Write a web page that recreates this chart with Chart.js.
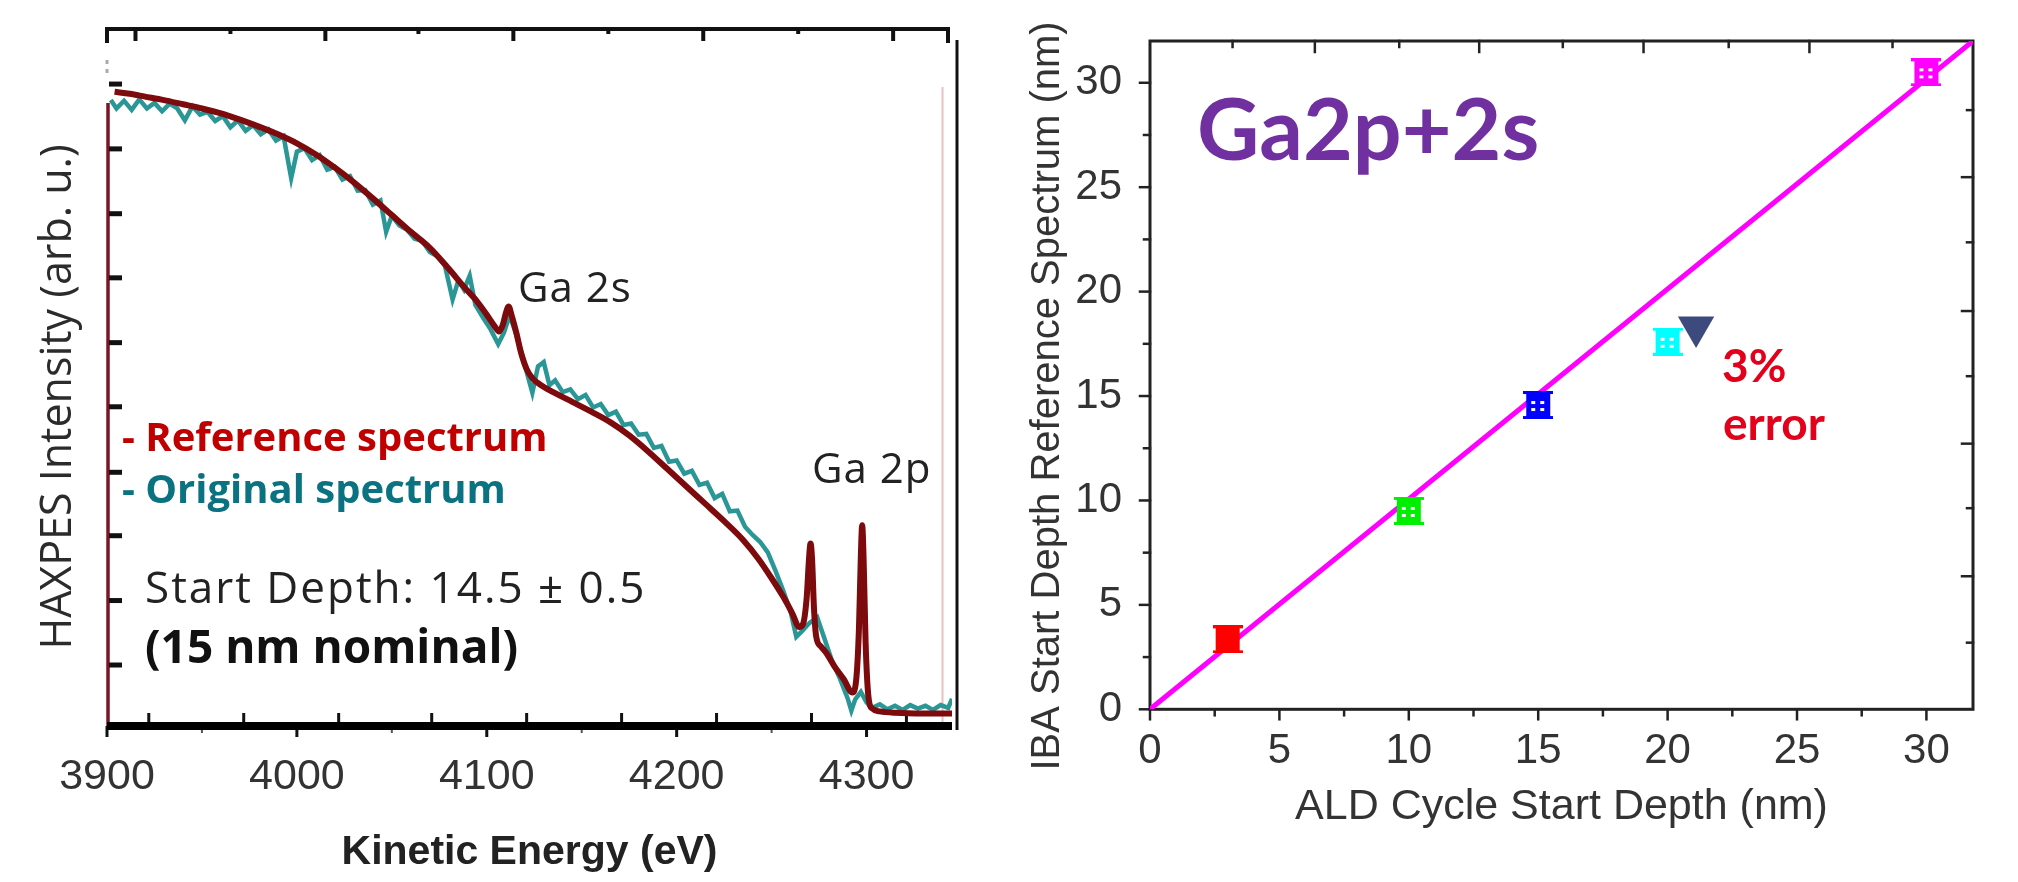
<!DOCTYPE html>
<html>
<head>
<meta charset="utf-8">
<script src="https://cdn.jsdelivr.net/npm/chart.js@4"></script>
<style>
  html, body { margin: 0; padding: 0; background: #fff; }
  body { width: 2018px; height: 882px; position: relative; overflow: hidden; }
  #wrapL { position: absolute; left: 0; top: 0; width: 1000px; height: 882px; }
  #wrapR { position: absolute; left: 1000px; top: 0; width: 1018px; height: 882px; }
</style>
</head>
<body>
<div id="wrapL"><canvas id="spectrum"></canvas></div>
<div id="wrapR"><canvas id="depth"></canvas></div>
<script>
// ---- left panel: HAXPES spectra (intensity in arb. u., 0..100 = axis height)
const refEnergy = [3904, 3912, 3920, 3930, 3940, 3950, 3960, 3970, 3980, 3990,
  4000, 4010, 4020, 4030, 4040, 4050, 4060, 4070, 4080, 4088, 4094, 4100, 4104,
  4106.5, 4108.5, 4110, 4111.5, 4113, 4115.5, 4118, 4121, 4124, 4128, 4135, 4145,
  4155, 4165, 4175, 4185, 4195, 4205, 4215, 4225, 4235, 4243, 4250, 4256, 4261,
  4264.5, 4266.5, 4268.5, 4269.7, 4270.5, 4271.3, 4272.3, 4273.5, 4276, 4279,
  4283, 4288, 4292.5, 4294.5, 4296, 4297, 4297.7, 4298.4, 4299.5, 4301, 4303,
  4307, 4315, 4330, 4345];
const refIntensity = [91.0, 90.7, 90.3, 89.8, 89.2, 88.6, 87.9, 87.0, 86.0, 84.9,
  83.6, 82.0, 80.1, 78.0, 75.7, 73.3, 70.9, 68.6, 65.6, 63.0, 61.2, 59.0, 57.4,
  56.6, 57.6, 59.2, 60.2, 59.0, 56.5, 53.6, 51.2, 49.9, 49.0, 47.9, 46.5,
  45.1, 43.6, 41.7, 39.4, 36.9, 34.4, 31.9, 29.4, 26.7, 24.0, 21.2, 18.6, 16.1,
  14.2, 14.6, 18.5, 24.0, 26.2, 24.0, 17.0, 12.8, 11.4, 10.4,
  8.6, 6.7, 4.8, 6.5, 14.0, 24.5, 28.8, 24.5, 12.0, 4.2, 2.5,
  2.1, 1.9, 1.8, 1.8];

const origEnergy = [3902, 3905, 3909, 3913, 3917, 3921, 3925, 3929, 3933, 3937,
  3941, 3945, 3949, 3953, 3957, 3961, 3965, 3969, 3973, 3977, 3981, 3985, 3989,
  3993, 3997, 4000, 4004, 4008, 4012, 4016, 4020, 4024, 4028, 4032, 4036, 4040,
  4044, 4047, 4050, 4054, 4058, 4062, 4066, 4070, 4074, 4078, 4082, 4085, 4088,
  4091, 4094, 4098, 4102, 4106, 4109, 4112, 4115, 4118, 4121, 4124, 4127, 4130,
  4133, 4136, 4140, 4144, 4148, 4152, 4156, 4160, 4164, 4168, 4172, 4176, 4180,
  4184, 4188, 4192, 4196, 4200, 4204, 4208, 4212, 4216, 4220, 4224, 4228, 4232,
  4236, 4240, 4244, 4248, 4252, 4256, 4260, 4263, 4266, 4270, 4274, 4278, 4282,
  4286, 4290, 4292, 4294, 4297, 4300, 4303, 4307, 4311, 4315, 4319, 4323, 4327,
  4331, 4335, 4339, 4343, 4345];
const origIntensity = [89.8, 88.6, 89.7, 88.4, 89.9, 88.6, 89.4, 88.2, 89.3, 88.6,
  86.9, 88.9, 87.7, 88.1, 86.8, 87.5, 85.9, 86.9, 85.4, 86.2, 84.9, 85.6, 84.0,
  84.6, 78.6, 82.4, 82.9, 81.2, 81.9, 79.8, 80.2, 78.4, 78.9, 76.8, 76.9, 74.8,
  75.4, 70.9, 73.2, 71.8, 71.2, 69.9, 69.6, 68.0, 67.4, 66.0, 61.2, 63.9, 62.6,
  64.6, 60.4, 58.6, 56.9, 54.8, 56.4, 58.9, 56.6, 53.8, 50.8, 47.8, 51.6, 52.2,
  48.9, 49.6, 47.9, 48.3, 46.9, 47.5, 45.7, 46.2, 44.6, 45.1, 43.2, 43.4, 41.8,
  41.9, 39.9, 40.2, 37.9, 38.1, 36.2, 36.6, 34.6, 34.9, 32.7, 33.3, 30.8, 30.9,
  28.6, 27.4, 26.4, 24.9, 22.3, 19.5, 16.4, 12.8, 13.6, 14.8, 15.6, 12.4, 9.2,
  6.8, 4.0, 2.2, 3.8, 4.9, 3.4, 2.6, 3.1, 2.4, 2.9, 2.3, 3.0, 2.5,
  2.9, 2.3, 3.0, 2.6, 3.9];

const energyLabels = [3900, 4000, 4100, 4200, 4300];
const energyHalfTicks = [3950, 4050, 4150, 4250];
const energyTopMajor = [3915, 4015, 4114, 4214, 4314];
const energyTopMinor = [3965, 4064, 4164, 4264];
const energyBottomInner = [3922, 3972, 4022, 4071, 4121, 4171, 4221, 4271, 4321];
const intensityTicks = [8.75, 18.0, 27.3, 36.4, 45.8, 55.0, 64.3, 73.5, 82.8, 92.1];

// ---- right panel: start depth comparison
const aldDepth = [3, 10, 15, 20, 30];
const ibaDepth = [3.35, 9.5, 14.57, 17.6, 30.5];
const pointColors = ['#ff0000', '#00ee00', '#0000ff', '#00ffff', '#ff00ff'];
const fitX = [0, 31.8];
const fitY = [0, 32];
const arrowX = [21.1];
const arrowY = [18.3];
const depthLabels = [0, 5, 10, 15, 20, 25, 30];
const depthMinor = [2.5, 7.5, 12.5, 17.5, 22.5, 27.5];
const depthTopLong = [6.37, 12.72, 19.07, 25.48];
const depthTopShort = [3.19, 9.63, 15.95, 22.36, 28.69];

function seg(ctx, x1, y1, x2, y2, color, w) {
  ctx.strokeStyle = color;
  ctx.lineWidth = w;
  ctx.beginPath();
  ctx.moveTo(x1, y1);
  ctx.lineTo(x2, y2);
  ctx.stroke();
}

function upText(ctx, text, x, y, font, color) {
  ctx.save();
  ctx.translate(x, y);
  ctx.rotate(-Math.PI / 2);
  ctx.font = font;
  ctx.fillStyle = color;
  ctx.textAlign = 'center';
  ctx.textBaseline = 'middle';
  ctx.fillText(text, 0, 0);
  ctx.restore();
}

const leftFrame = {
  id: 'leftFrame',
  beforeDatasetsDraw(chart) {
    const { ctx, chartArea: a, scales: { x, y } } = chart;
    ctx.save();
    seg(ctx, a.left, a.top, a.right - 4, a.top, '#111', 4);
    seg(ctx, a.left, a.top - 2, a.left, a.top + 14, '#111', 4);
    seg(ctx, a.right - 4, a.top - 2, a.right - 4, a.top + 14, '#111', 4);
    seg(ctx, a.right + 5, a.top + 11, a.right + 5, a.bottom + 4, '#111', 3);
    const px = x.getPixelForValue(4340);
    seg(ctx, px, 87, px, a.bottom, '#e8c0c0', 2);
    seg(ctx, a.left + 1, 103, a.left + 1, a.bottom, '#7b1526', 3.5);
    seg(ctx, a.left, 60, a.left, 64, '#aaa', 3);
    seg(ctx, a.left, 69, a.left, 73, '#aaa', 3);
    energyTopMajor.forEach(v => { const p = x.getPixelForValue(v); seg(ctx, p, a.top, p, a.top + 12, '#111', 4); });
    energyTopMinor.forEach(v => { const p = x.getPixelForValue(v); seg(ctx, p, a.top, p, a.top + 5, '#111', 4); });
    energyBottomInner.forEach(v => { const p = x.getPixelForValue(v); seg(ctx, p, a.bottom, p, a.bottom - 13, '#111', 3); });
    energyLabels.forEach(v => { const p = x.getPixelForValue(v); seg(ctx, p, a.bottom, p, a.bottom + 11, '#111', 3); });
    energyHalfTicks.forEach(v => { const p = x.getPixelForValue(v); seg(ctx, p, a.bottom, p, a.bottom + 7, '#555', 2); });
    intensityTicks.forEach(v => { const p = y.getPixelForValue(v); seg(ctx, a.left + 2, p, a.left + 15, p, '#111', 5); });
    seg(ctx, a.left, a.bottom, a.right, a.bottom, '#000', 8);
    ctx.restore();
  }
};

const leftNotes = {
  id: 'leftNotes',
  afterDatasetsDraw(chart) {
    const ctx = chart.ctx;
    ctx.save();
    upText(ctx, 'HAXPES Intensity (arb. u.)', 59, 397, "43px 'Open Sans'", '#2b2b2b');
    ctx.textBaseline = 'alphabetic';
    ctx.textAlign = 'left';
    ctx.letterSpacing = '1px';
    ctx.font = "42px 'Open Sans'";
    ctx.fillStyle = '#222';
    ctx.fillText('Ga 2s', 518, 302);
    ctx.fillText('Ga 2p', 812, 483);
    ctx.letterSpacing = '0px';
    ctx.font = "bold 40px 'Open Sans'";
    ctx.fillStyle = '#c00000';
    ctx.fillText('- Reference spectrum', 122, 451);
    ctx.fillStyle = '#0a7280';
    ctx.fillText('- Original spectrum', 122, 503);
    ctx.letterSpacing = '2px';
    ctx.font = "44px 'Open Sans'";
    ctx.fillStyle = '#222';
    ctx.fillText('Start Depth: 14.5 \u00b1 0.5', 145, 603);
    ctx.letterSpacing = '0px';
    ctx.font = "bold 46px 'Open Sans'";
    ctx.fillStyle = '#111';
    ctx.fillText('(15 nm nominal)', 145, 663);
    ctx.restore();
  }
};

new Chart(document.getElementById('spectrum'), {
  type: 'line',
  data: {
    datasets: [
      {
        label: 'Original spectrum',
        data: origEnergy.map((e, i) => ({ x: e, y: origIntensity[i] })),
        borderColor: '#2a9696',
        borderWidth: 4.5,
        pointRadius: 0,
        tension: 0,
        order: 2
      },
      {
        label: 'Reference spectrum',
        data: refEnergy.map((e, i) => ({ x: e, y: refIntensity[i] })),
        borderColor: '#7d0a0c',
        borderWidth: 6,
        pointRadius: 0,
        cubicInterpolationMode: 'monotone',
        order: 1
      }
    ]
  },
  options: {
    responsive: true,
    maintainAspectRatio: false,
    animation: false,
    layout: { padding: { top: 29, right: 48, left: 0, bottom: 0 } },
    plugins: { legend: { display: false }, tooltip: { enabled: false } },
    scales: {
      x: {
        type: 'linear',
        min: 3900,
        max: 4345,
        afterFit: s => { s.height = 156; },
        afterBuildTicks: s => { s.ticks = energyLabels.map(v => ({ value: v })); },
        grid: { display: false },
        border: { display: false },
        ticks: {
          padding: 22,
          color: '#333',
          maxRotation: 0,
          autoSkip: false,
          font: { family: "'Liberation Sans Narrow', 'Liberation Sans', Arial", size: 43, lineHeight: 1 },
          callback: v => String(v)
        },
        title: {
          display: true,
          text: 'Kinetic Energy (eV)',
          color: '#222',
          font: { family: "'Liberation Sans', Arial", weight: 'bold', size: 41 },
          padding: { top: 0, bottom: 5 }
        }
      },
      y: {
        min: 0,
        max: 100,
        afterFit: s => { s.width = 107; },
        grid: { display: false },
        border: { display: false },
        ticks: { display: false },
        title: { display: false }
      }
    }
  },
  plugins: [leftFrame, leftNotes]
});

// ---- right panel
function makeMarker(color, dots) {
  const c = document.createElement('canvas');
  c.width = 30;
  c.height = 28;
  const g = c.getContext('2d');
  g.fillStyle = color;
  g.fillRect(3, 1, 24, 26);
  g.fillRect(0, 0, 30, 3);
  g.fillRect(0, 25, 30, 3);
  if (dots) {
    g.fillStyle = '#fff';
    [[8, 10], [17, 10], [8, 17], [17, 17]].forEach(([dx, dy]) => g.fillRect(dx, dy, 4, 3));
  }
  return c;
}
const markers = pointColors.map((c, i) => makeMarker(c, i > 0));

const rightFrame = {
  id: 'rightFrame',
  beforeDatasetsDraw(chart) {
    const { ctx, chartArea: a, scales: { x, y } } = chart;
    ctx.save();
    ctx.lineCap = 'square';
    depthLabels.forEach(v => {
      const px = x.getPixelForValue(v), py = y.getPixelForValue(v);
      seg(ctx, px, a.bottom, px, a.bottom + 10, '#222', 2.5);
      seg(ctx, a.left, py, a.left - 10, py, '#222', 2.5);
    });
    depthMinor.forEach(v => {
      const px = x.getPixelForValue(v), py = y.getPixelForValue(v);
      seg(ctx, px, a.bottom, px, a.bottom + 6, '#222', 2.5);
      seg(ctx, a.left, py, a.left - 6, py, '#222', 2.5);
    });
    depthTopLong.forEach(v => {
      const px = x.getPixelForValue(v), py = y.getPixelForValue(v);
      seg(ctx, px, a.top, px, a.top + 11, '#222', 2.5);
      seg(ctx, a.right, py, a.right - 11, py, '#222', 2.5);
    });
    depthTopShort.forEach(v => {
      const px = x.getPixelForValue(v), py = y.getPixelForValue(v);
      seg(ctx, px, a.top, px, a.top + 6, '#222', 2.5);
      seg(ctx, a.right, py, a.right - 6, py, '#222', 2.5);
    });
    ctx.strokeStyle = '#222';
    ctx.lineWidth = 3;
    ctx.strokeRect(a.left, a.top, a.right - a.left, a.bottom - a.top);
    ctx.restore();
  }
};

const rightNotes = {
  id: 'rightNotes',
  afterDatasetsDraw(chart) {
    const ctx = chart.ctx;
    ctx.save();
    upText(ctx, 'IBA Start Depth Reference Spectrum (nm)', 48, 396, "40px 'Liberation Sans', Arial", '#333');
    ctx.textBaseline = 'alphabetic';
    ctx.textAlign = 'left';
    ctx.font = "bold 86px Lato";
    ctx.fillStyle = '#7030a0';
    ctx.fillText('Ga2p+2s', 197, 160);
    ctx.font = "bold 46px Lato";
    ctx.fillStyle = '#e2001a';
    ctx.fillText('3%', 722, 382);
    ctx.fillText('error', 723, 440);
    ctx.restore();
  }
};

new Chart(document.getElementById('depth'), {
  type: 'scatter',
  data: {
    datasets: [
      {
        type: 'line',
        data: fitX.map((v, i) => ({ x: v, y: fitY[i] })),
        borderColor: '#ff00ff',
        borderWidth: 5,
        pointRadius: 0,
        order: 3
      },
      {
        data: aldDepth.map((v, i) => ({ x: v, y: ibaDepth[i] })),
        pointStyle: markers,
        pointRadius: 14,
        order: 2
      },
      {
        data: arrowX.map((v, i) => ({ x: v, y: arrowY[i] })),
        pointStyle: 'triangle',
        rotation: 180,
        pointRadius: 21,
        backgroundColor: '#3d4a7d',
        borderWidth: 0,
        order: 1
      }
    ]
  },
  options: {
    responsive: true,
    maintainAspectRatio: false,
    animation: false,
    layout: { padding: { top: 37, right: 45, left: 0, bottom: 0 } },
    plugins: { legend: { display: false }, tooltip: { enabled: false } },
    scales: {
      x: {
        type: 'linear',
        min: 0,
        max: 31.8,
        afterFit: s => { s.height = 172.7; },
        afterBuildTicks: s => { s.ticks = depthLabels.map(v => ({ value: v })); },
        grid: { display: false },
        border: { display: false },
        ticks: {
          padding: 13,
          color: '#333',
          maxRotation: 0,
          autoSkip: false,
          font: { family: "'Liberation Sans', Arial", size: 42, lineHeight: 1 },
          callback: v => String(v)
        },
        title: {
          display: true,
          text: 'ALD Cycle Start Depth (nm)',
          color: '#333',
          font: { family: "'Liberation Sans', Arial", size: 43 },
          padding: { top: 0, bottom: 49 }
        }
      },
      y: {
        type: 'linear',
        min: 0,
        max: 32,
        afterFit: s => { s.width = 150; },
        afterBuildTicks: s => { s.ticks = depthLabels.map(v => ({ value: v })); },
        grid: { display: false },
        border: { display: false },
        ticks: {
          padding: 20,
          color: '#333',
          font: { family: "'Liberation Sans', Arial", size: 42, lineHeight: 1 },
          callback: v => String(v)
        },
        title: { display: false }
      }
    }
  },
  plugins: [rightFrame, rightNotes]
});
</script>
</body>
</html>
